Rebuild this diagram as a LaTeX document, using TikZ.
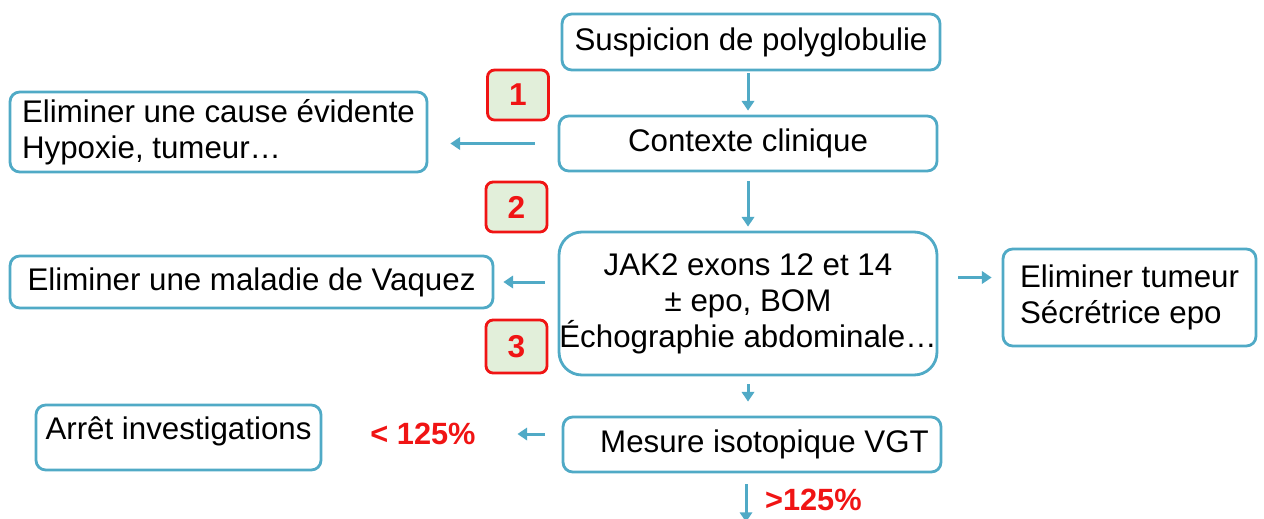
\documentclass[tikz,border=0pt]{standalone}
\usepackage{fontspec}
\setmainfont{Liberation Sans}
\usetikzlibrary{arrows.meta}
\definecolor{boxblue}{RGB}{80,170,198}
\definecolor{numgreen}{RGB}{226,239,218}
\definecolor{numred}{RGB}{240,20,20}
\begin{document}
\begin{tikzpicture}[x=0.02cm,y=-0.02cm,
  box/.style={draw=boxblue,line width=1.6pt,rounded corners=5.5pt,align=center,inner sep=0pt,
    font=\fontsize{17.8}{20.5}\selectfont},
  leftbox/.style={box,align=left},
  num/.style={draw=numred,fill=numgreen,line width=1.6pt,rounded corners=4pt,minimum width=1.22cm,
    minimum height=1cm,text=numred,font=\fontsize{18}{20}\selectfont\bfseries},
  arr/.style={draw=boxblue,line width=1.7pt,-{Triangle[length=5.5pt,width=7pt]}},
  pct/.style={text=numred,inner sep=2pt,font=\fontsize{17.5}{20}\selectfont\bfseries}]
\useasboundingbox(0,0)rectangle(1264,518);
%
\node[box,minimum width=7.56cm,minimum height=1.12cm](sus)at(751,42){Suspicion de polyglobulie};
\node[box,minimum width=7.56cm,minimum height=1.10cm](ctx)at(748,143.5){Contexte clinique};
\node[box,rounded corners=13pt,minimum width=7.56cm,minimum height=2.86cm](jak)at(748,303.5)
  {JAK2 exons 12 et 14\\± epo, BOM\\Échographie abdominale…};
\node[box,minimum width=7.56cm,minimum height=1.10cm](mes)at(752,444.5){\hspace*{0.5cm}Mesure isotopique VGT};
%
\node[leftbox,minimum width=8.34cm,minimum height=1.6cm](cause)at(218.5,132)
  {Eliminer une cause évidente\\Hypoxie, tumeur…};
\node[box,minimum width=9.66cm,minimum height=1.04cm](vaq)at(251.5,282){Eliminer une maladie de Vaquez};
\node[leftbox,minimum width=5.7cm,text height=0.68cm,text depth=0.62cm](stop)at(178.5,437.5)
  {Arrêt investigations};
\node[leftbox,minimum width=5.06cm,minimum height=1.94cm](tum)at(1129.5,297.5)
  {Eliminer tumeur\\Sécrétrice epo};
%
\node[num](n1)at(518,95){1};
\node[num](n2)at(516.5,207){2};
\node[num,minimum height=1.06cm](n3)at(516.5,346.5){3};
\node[pct](lt)at(423,434){< 125\%};
\coordinate(down)at(746,522);
%
\draw[arr,shorten <=0.04cm,shorten >=0.08cm](sus.south -| ctx.north)--(ctx.north);
\draw[arr,shorten <=0.46cm,shorten >=0.44cm](ctx.west)--(ctx.west -| cause.east);
\draw[arr,shorten <=0.18cm,shorten >=0.08cm](ctx.south)--(jak.north);
\draw[arr,shorten <=0.26cm,shorten >=0.18cm](vaq.east -| jak.west)--(vaq.east);
\draw[arr,shorten <=0.40cm,shorten >=0.20cm]([yshift=0.52cm]jak.east)--([yshift=0.52cm]jak.east -| tum.west);
\draw[arr,shorten <=0.16cm,shorten >=0.28cm](jak.south)--(jak.south |- mes.north);
\draw[arr,shorten <=0.34cm,shorten >=0.76cm](lt.east -| mes.west)--(lt.east);
\draw[arr,shorten <=0.22cm](mes.south -| down)--(down)node[pct,pos=0.55,right=8pt]{>125\%};
\end{tikzpicture}
\end{document}
